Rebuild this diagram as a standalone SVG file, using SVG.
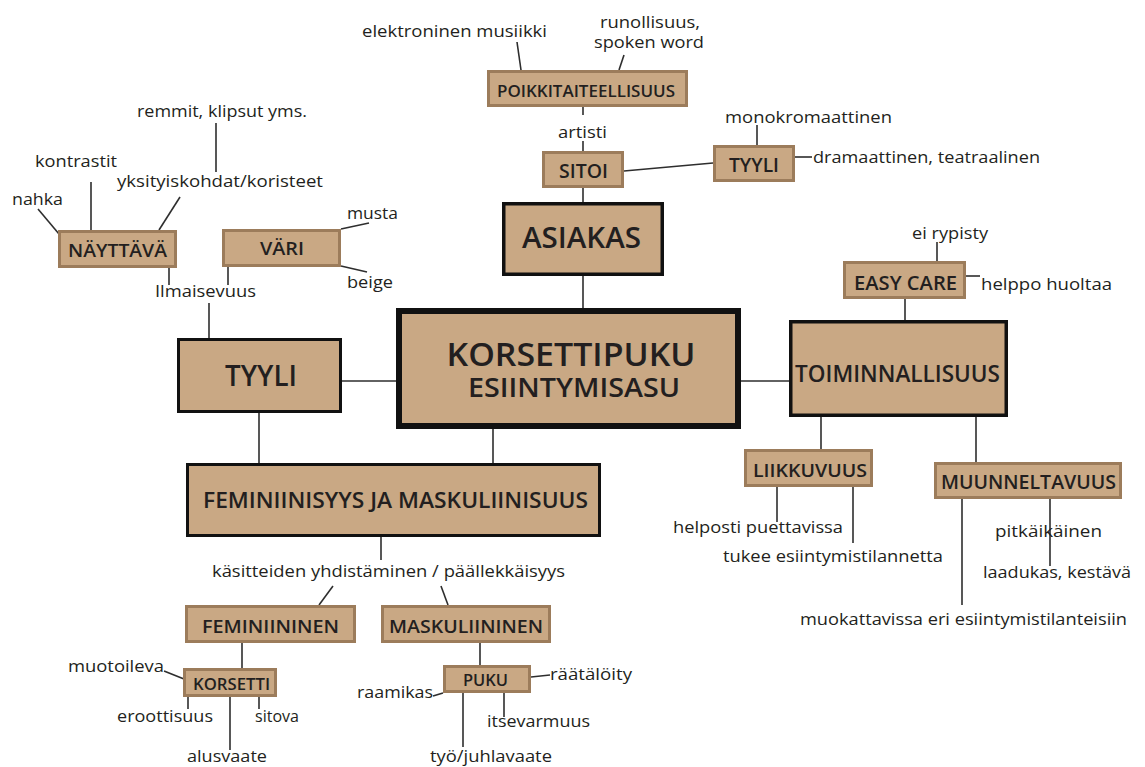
<svg xmlns="http://www.w3.org/2000/svg" width="1145" height="767" viewBox="0 0 1145 767">
<style>
.bg{fill:#ffffff}
.sb{fill:#c9a884;stroke:#9c7c5b;stroke-width:3}
.bb{fill:#c9a884;stroke:#111111;stroke-width:3.5}
.lbl{font-family:"Open Sans","Noto Sans",sans-serif;font-size:17px;fill:#231f20}
.bl{font-family:"Open Sans","Noto Sans",sans-serif;font-weight:600;fill:#231f20;text-anchor:middle}
.con line{stroke:#2e2e2e;stroke-width:1.6;fill:none}
</style>
<rect class="bg" x="0" y="0" width="1145" height="767"/>
<g id="connectors" class="con">
<line x1="583" y1="107" x2="583" y2="115"/>
<line x1="583" y1="141" x2="583" y2="151"/>
<line x1="517" y1="42" x2="521" y2="70"/>
<line x1="624" y1="55" x2="619" y2="70"/>
<line x1="624" y1="171" x2="713" y2="163"/>
<line x1="757" y1="125" x2="757" y2="145"/>
<line x1="795" y1="157" x2="812" y2="157"/>
<line x1="583" y1="188" x2="583" y2="202"/>
<line x1="583" y1="276" x2="583" y2="308"/>
<line x1="216" y1="123" x2="216" y2="172"/>
<line x1="180" y1="197" x2="159" y2="230"/>
<line x1="91" y1="182" x2="91" y2="230"/>
<line x1="38" y1="209" x2="59" y2="234"/>
<line x1="341" y1="229" x2="369" y2="223"/>
<line x1="341" y1="266" x2="367" y2="272"/>
<line x1="169" y1="268" x2="169" y2="285"/>
<line x1="228" y1="267" x2="228" y2="285"/>
<line x1="209" y1="303" x2="209" y2="338"/>
<line x1="342" y1="381" x2="396" y2="381"/>
<line x1="741" y1="381" x2="789" y2="381"/>
<line x1="259" y1="413" x2="259" y2="463"/>
<line x1="493" y1="429" x2="493" y2="463"/>
<line x1="937" y1="242" x2="937" y2="261"/>
<line x1="966" y1="276" x2="980" y2="276"/>
<line x1="905" y1="299" x2="905" y2="320"/>
<line x1="821" y1="417" x2="821" y2="449"/>
<line x1="976" y1="417" x2="976" y2="462"/>
<line x1="777" y1="487" x2="777" y2="522"/>
<line x1="853" y1="487" x2="853" y2="543"/>
<line x1="1050" y1="499" x2="1050" y2="566"/>
<line x1="962" y1="499" x2="962" y2="605"/>
<line x1="381" y1="537" x2="381" y2="560"/>
<line x1="333" y1="586" x2="319" y2="605"/>
<line x1="441" y1="586" x2="448" y2="605"/>
<line x1="242" y1="643" x2="242" y2="668"/>
<line x1="164" y1="671" x2="184" y2="679"/>
<line x1="188" y1="697" x2="188" y2="709"/>
<line x1="259" y1="697" x2="259" y2="709"/>
<line x1="230" y1="697" x2="230" y2="750"/>
<line x1="480" y1="643" x2="480" y2="665"/>
<line x1="531" y1="677" x2="550" y2="675"/>
<line x1="433" y1="696" x2="443" y2="693"/>
<line x1="504" y1="693" x2="504" y2="717"/>
<line x1="463" y1="693" x2="463" y2="747"/>
</g>
<g id="korsettipuku">
<rect x="399" y="311" width="339" height="115" style="fill:#c9a884;stroke:#111;stroke-width:6"/>
<text class="bl" x="571" y="366" font-size="33" textLength="249" lengthAdjust="spacingAndGlyphs">KORSETTIPUKU</text>
<text class="bl" x="574" y="397" font-size="27" font-weight="500" textLength="212" lengthAdjust="spacingAndGlyphs">ESIINTYMISASU</text>
</g>
<g id="asiakas">
<rect class="bb" x="503.75" y="203.75" width="158.5" height="70.5"/>
<text class="bl" x="581.5" y="248" font-size="29" textLength="119" lengthAdjust="spacingAndGlyphs">ASIAKAS</text>
</g>
<g id="tyyli">
<rect class="bb" x="178.5" y="339.5" width="162" height="72" style="stroke-width:3"/>
<text class="bl" x="261" y="386" font-size="29" textLength="72" lengthAdjust="spacingAndGlyphs">TYYLI</text>
</g>
<g id="toiminnallisuus">
<rect class="bb" x="790.75" y="321.75" width="215.5" height="93.5"/>
<text class="bl" x="897.5" y="382" font-size="24" textLength="205" lengthAdjust="spacingAndGlyphs">TOIMINNALLISUUS</text>
</g>
<g id="feminiinisyys">
<rect class="bb" x="187.5" y="464.5" width="412" height="71" style="stroke-width:3"/>
<text class="bl" x="395.5" y="508" font-size="21" textLength="385" lengthAdjust="spacingAndGlyphs">FEMINIINISYYS JA MASKULIINISUUS</text>
</g>
<g id="poikkitaiteellisuus">
<rect class="sb" x="488.5" y="71.5" width="198" height="34"/>
<text class="bl" x="586" y="97" font-size="17" textLength="178" lengthAdjust="spacingAndGlyphs">POIKKITAITEELLISUUS</text>
</g>
<g id="sitoi">
<rect class="sb" x="543.5" y="152.5" width="79" height="34"/>
<text class="bl" x="583.5" y="178" font-size="19.5" textLength="49" lengthAdjust="spacingAndGlyphs">SITOI</text>
</g>
<g id="tyyli2">
<rect class="sb" x="714.5" y="146.5" width="79" height="34"/>
<text class="bl" x="754" y="172" font-size="19.5" textLength="50" lengthAdjust="spacingAndGlyphs">TYYLI</text>
</g>
<g id="nayttava">
<rect class="sb" x="59.5" y="231.5" width="116" height="35"/>
<text class="bl" x="117.5" y="257" font-size="18.5" textLength="99" lengthAdjust="spacingAndGlyphs">NÄYTTÄVÄ</text>
</g>
<g id="vari">
<rect class="sb" x="223.5" y="230.5" width="116" height="35"/>
<text class="bl" x="282" y="255" font-size="18.5" textLength="44" lengthAdjust="spacingAndGlyphs">VÄRI</text>
</g>
<g id="easycare">
<rect class="sb" x="844.5" y="262.5" width="120" height="35"/>
<text class="bl" x="905.5" y="290" font-size="19" textLength="103" lengthAdjust="spacingAndGlyphs">EASY CARE</text>
</g>
<g id="liikkuvuus">
<rect class="sb" x="745.5" y="450.5" width="126" height="35"/>
<text class="bl" x="810" y="477" font-size="18" textLength="114" lengthAdjust="spacingAndGlyphs">LIIKKUVUUS</text>
</g>
<g id="muunneltavuus">
<rect class="sb" x="935.5" y="463.5" width="185" height="34"/>
<text class="bl" x="1028.5" y="489" font-size="19" textLength="175" lengthAdjust="spacingAndGlyphs">MUUNNELTAVUUS</text>
</g>
<g id="feminiininen">
<rect class="sb" x="186.5" y="606.5" width="168" height="35"/>
<text class="bl" x="270.5" y="633" font-size="17.5" textLength="137" lengthAdjust="spacingAndGlyphs">FEMINIININEN</text>
</g>
<g id="maskuliininen">
<rect class="sb" x="382.5" y="606.5" width="167" height="35"/>
<text class="bl" x="466" y="633" font-size="17.5" textLength="154" lengthAdjust="spacingAndGlyphs">MASKULIININEN</text>
</g>
<g id="korsetti">
<rect class="sb" x="184.5" y="669.5" width="91" height="26"/>
<text class="bl" x="231.5" y="690" font-size="16.5" textLength="77" lengthAdjust="spacingAndGlyphs">KORSETTI</text>
</g>
<g id="puku">
<rect class="sb" x="444.5" y="666.5" width="85" height="25"/>
<text class="bl" x="485.5" y="686" font-size="16.5" textLength="45" lengthAdjust="spacingAndGlyphs">PUKU</text>
</g>
<g id="labels">
<text class="lbl" x="362" y="37" textLength="185" lengthAdjust="spacingAndGlyphs">elektroninen musiikki</text>
<text class="lbl" x="600" y="28" font-size="16" textLength="100" lengthAdjust="spacingAndGlyphs">runollisuus,</text>
<text class="lbl" x="594" y="48" font-size="16" textLength="110" lengthAdjust="spacingAndGlyphs">spoken word</text>
<text class="lbl" x="558" y="138" textLength="49" lengthAdjust="spacingAndGlyphs">artisti</text>
<text class="lbl" x="725" y="123" textLength="167" lengthAdjust="spacingAndGlyphs">monokromaattinen</text>
<text class="lbl" x="813" y="163" textLength="227" lengthAdjust="spacingAndGlyphs">dramaattinen, teatraalinen</text>
<text class="lbl" x="137" y="117" textLength="170" lengthAdjust="spacingAndGlyphs">remmit, klipsut yms.</text>
<text class="lbl" x="35" y="167" textLength="82" lengthAdjust="spacingAndGlyphs">kontrastit</text>
<text class="lbl" x="117" y="187" textLength="206" lengthAdjust="spacingAndGlyphs">yksityiskohdat/koristeet</text>
<text class="lbl" x="12" y="205" textLength="51" lengthAdjust="spacingAndGlyphs">nahka</text>
<text class="lbl" x="347" y="219" textLength="51" lengthAdjust="spacingAndGlyphs">musta</text>
<text class="lbl" x="347" y="288" textLength="46" lengthAdjust="spacingAndGlyphs">beige</text>
<text class="lbl" x="155" y="297" textLength="101" lengthAdjust="spacingAndGlyphs">Ilmaisevuus</text>
<text class="lbl" x="912" y="239" textLength="76" lengthAdjust="spacingAndGlyphs">ei rypisty</text>
<text class="lbl" x="981" y="290" textLength="131" lengthAdjust="spacingAndGlyphs">helppo huoltaa</text>
<text class="lbl" x="673" y="533" textLength="170" lengthAdjust="spacingAndGlyphs">helposti puettavissa</text>
<text class="lbl" x="723" y="562" textLength="220" lengthAdjust="spacingAndGlyphs">tukee esiintymistilannetta</text>
<text class="lbl" x="995" y="537" textLength="107" lengthAdjust="spacingAndGlyphs">pitkäikäinen</text>
<text class="lbl" x="983" y="578" textLength="148" lengthAdjust="spacingAndGlyphs">laadukas, kestävä</text>
<text class="lbl" x="800" y="625" textLength="327" lengthAdjust="spacingAndGlyphs">muokattavissa eri esiintymistilanteisiin</text>
<text class="lbl" x="212" y="577" textLength="353" lengthAdjust="spacingAndGlyphs">käsitteiden yhdistäminen / päällekkäisyys</text>
<text class="lbl" x="68" y="672" textLength="96" lengthAdjust="spacingAndGlyphs">muotoileva</text>
<text class="lbl" x="117" y="722" textLength="96" lengthAdjust="spacingAndGlyphs">eroottisuus</text>
<text class="lbl" x="255" y="722" textLength="44" lengthAdjust="spacingAndGlyphs">sitova</text>
<text class="lbl" x="187" y="762" textLength="80" lengthAdjust="spacingAndGlyphs">alusvaate</text>
<text class="lbl" x="550" y="680" textLength="82" lengthAdjust="spacingAndGlyphs">räätälöity</text>
<text class="lbl" x="357" y="698" textLength="76" lengthAdjust="spacingAndGlyphs">raamikas</text>
<text class="lbl" x="487" y="727" textLength="103" lengthAdjust="spacingAndGlyphs">itsevarmuus</text>
<text class="lbl" x="430" y="762" textLength="122" lengthAdjust="spacingAndGlyphs">työ/juhlavaate</text>
</g>
</svg>
